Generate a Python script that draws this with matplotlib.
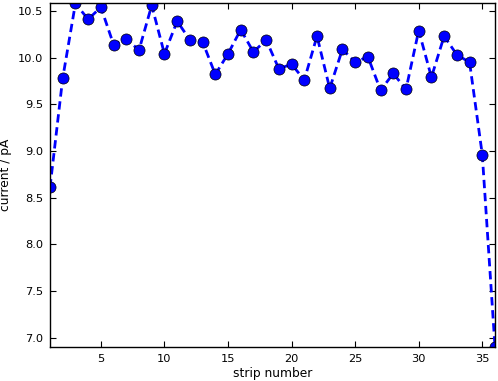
import matplotlib
matplotlib.use("Agg")
import matplotlib.pyplot as plt

strips = list(range(1, 37))
current = [8.61, 9.78, 10.58, 10.41, 10.54, 10.14, 10.20, 10.08, 10.56, 10.04,
           10.39, 10.19, 10.17, 9.82, 10.04, 10.30, 10.06, 10.19, 9.88, 9.93,
           9.76, 10.23, 9.67, 10.09, 9.95, 10.01, 9.65, 9.83, 9.66, 10.29,
           9.79, 10.23, 10.03, 9.95, 8.96, 6.90]
xticks = [5, 10, 15, 20, 25, 30, 35]
yticks = [7.0, 7.5, 8.0, 8.5, 9.0, 9.5, 10.0, 10.5]

fig = plt.figure(figsize=(4.98, 3.81), dpi=100)
ax = fig.add_axes([50/498, 34/381, 445/498, 344/381])
ax.plot(strips, current, linestyle='--', color='blue', linewidth=2,
        marker='o', markersize=8, markerfacecolor='blue', markeredgecolor='black',
        markeredgewidth=0.5, dashes=(3, 1.7))
ax.set_xlim(1, 36)
ax.set_ylim(6.90, 10.585)
ax.set_xticks(xticks)
ax.set_yticks(yticks)
ax.set_yticklabels([f"{v:.1f}" for v in yticks])
ax.tick_params(direction='in', top=True, right=True, length=4, width=0.8,
               labelsize=8.2, pad=5)
for s in ax.spines.values():
    s.set_linewidth(1)
ax.set_xlabel("strip number", fontsize=8.8, labelpad=2)
ax.set_ylabel("current / pA", fontsize=8.8, labelpad=4)
fig.savefig("out.png", dpi=100)
